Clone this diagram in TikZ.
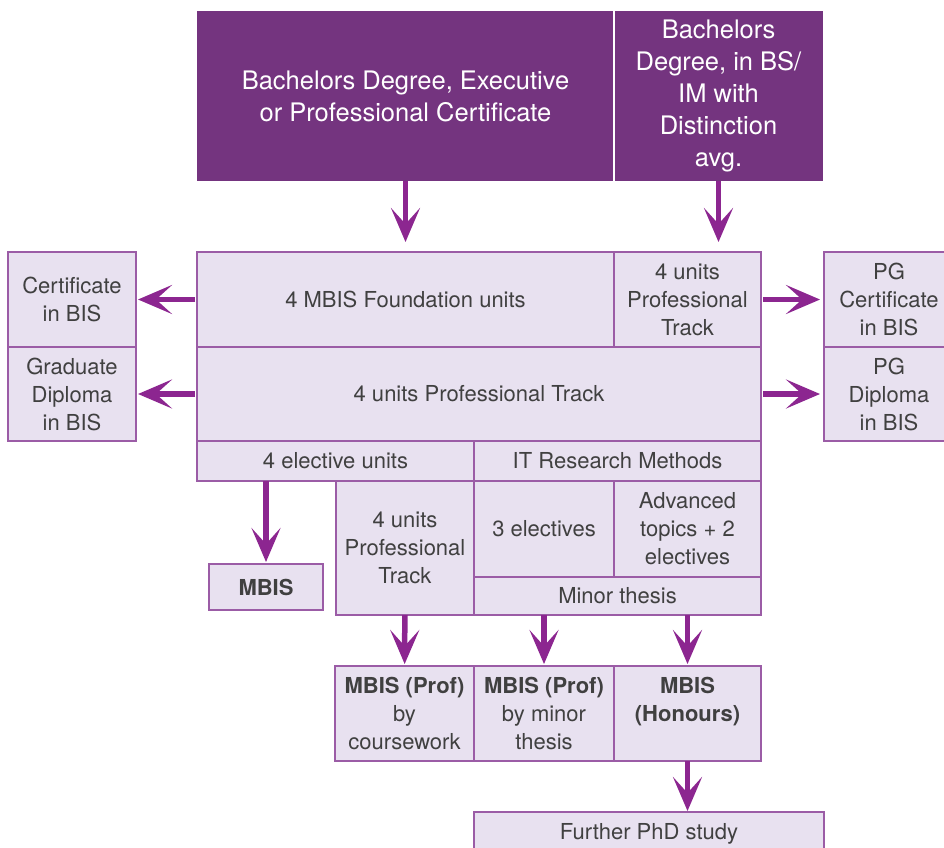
\documentclass[tikz,border=0pt]{standalone}
\usepackage{fontspec}
\setmainfont{TeX Gyre Heros}
\usepackage{xcolor}
\usetikzlibrary{positioning,arrows.meta}

\definecolor{plum}{HTML}{74347F}
\definecolor{lilac}{HTML}{E8E1F0}
\definecolor{edgeplum}{HTML}{9B5CA6}
\definecolor{flowplum}{HTML}{8C2690}
\definecolor{inkgrey}{HTML}{404040}

\begin{document}
\begin{tikzpicture}[
    x=1pt, y=-1pt,
    entry/.style={rectangle, fill=plum, text=white, align=center, inner sep=0pt, outer sep=0pt, anchor=north west, font=\fontsize{25.5}{32}\selectfont},
    unit/.style={rectangle, draw=edgeplum, line width=1.4pt, fill=lilac, text=inkgrey, align=center, inner sep=0pt, outer sep=0pt, anchor=north west, font=\fontsize{22}{28}\selectfont},
    award/.style={unit, font=\bfseries\fontsize{22}{28}\selectfont},
    flow/.style={-{Stealth[length=34pt, width=29pt, inset=16pt]}, draw=flowplum, line width=5.5pt}
]

\useasboundingbox (0,0) rectangle (944,847);

% entry requirements
\node[entry, minimum width=417pt, minimum height=170pt] (bach) at (197,11) {Bachelors Degree, Executive\\or Professional Certificate};
\node[entry, minimum width=209pt, minimum height=170pt, right=0pt of bach] (dist) {Bachelors\\Degree, in BS/\\IM with\\Distinction\\avg.};
\draw[white, line width=2pt] (dist.north west) -- (dist.south west);

% first year
\node[unit, minimum width=417pt, minimum height=95pt] (found) at (197,252) {4 MBIS Foundation units};
\node[unit, minimum width=147pt, minimum height=95pt, right=0pt of found] (proff) {4 units\\Professional\\Track};
\node[unit, minimum width=128pt, minimum height=95pt] (cert) at (8,252) {Certificate\\in BIS};
\node[unit, minimum width=130pt, minimum height=95pt] (pgcert) at (824,252) {PG\\Certificate\\in BIS};

\node[unit, minimum width=564pt, minimum height=94pt] (track) at (197,347) {4 units Professional Track};
\node[unit, minimum width=128pt, minimum height=94pt] (gdip) at (8,347) {Graduate\\Diploma\\in BIS};
\node[unit, minimum width=130pt, minimum height=94pt] (pgdip) at (824,347) {PG\\Diploma\\in BIS};

% second year
\node[unit, minimum width=277pt, minimum height=40pt] (elect) at (197,441) {4 elective units};
\node[unit, minimum width=287pt, minimum height=40pt, right=0pt of elect] (itrm) {IT Research Methods};
\node[unit, minimum width=138pt, minimum height=134pt] (track2) at (336,481) {4 units\\Professional\\Track};
\node[unit, minimum width=140pt, minimum height=96pt] (three) at (474,481) {3 electives};
\node[unit, minimum width=147pt, minimum height=96pt, right=0pt of three] (adv) {Advanced\\topics + 2\\electives};
\node[unit, minimum width=287pt, minimum height=38pt] (minor) at (474,577) {Minor thesis};
\node[award, minimum width=114pt, minimum height=46pt] (mbis) at (209,564) {MBIS};

% awards
\node[unit, minimum width=139pt, minimum height=95pt] (course) at (335,666) {\textbf{MBIS (Prof)}\\by\\coursework};
\node[unit, minimum width=140pt, minimum height=95pt, right=0pt of course] (thesis) {\textbf{MBIS (Prof)}\\by minor\\thesis};
\node[award, minimum width=147pt, minimum height=95pt, right=0pt of thesis] (hons) {MBIS\\(Honours)\\~};
\node[unit, minimum width=350pt, minimum height=44pt] (phd) at (474,812) {Further PhD study};

% pathways
\draw[flow, shorten >=10pt] (bach) -- (found);
\draw[flow, shorten >=10pt] (dist.south) -- (dist.south |- proff.north);
\draw[flow, shorten <=2pt, shorten >=2pt] (found) -- (cert);
\draw[flow, shorten <=2pt, shorten >=2pt] (track) -- (gdip);
\draw[flow, shorten <=2pt, shorten >=4pt] (proff) -- (pgcert);
\draw[flow, shorten <=2pt, shorten >=4pt] (track) -- (pgdip);
\draw[flow, shorten >=2pt] (mbis.north |- elect.south) -- (mbis.north);
\draw[flow, shorten >=2pt] (track2) -- (course);
\draw[flow, shorten >=2pt] (thesis.north |- minor.south) -- (thesis.north);
\draw[flow, shorten >=2pt] (hons.north |- minor.south) -- (hons.north);
\draw[flow, shorten >=1pt] (hons.south) -- (hons.south |- phd.north);

\end{tikzpicture}
\end{document}
